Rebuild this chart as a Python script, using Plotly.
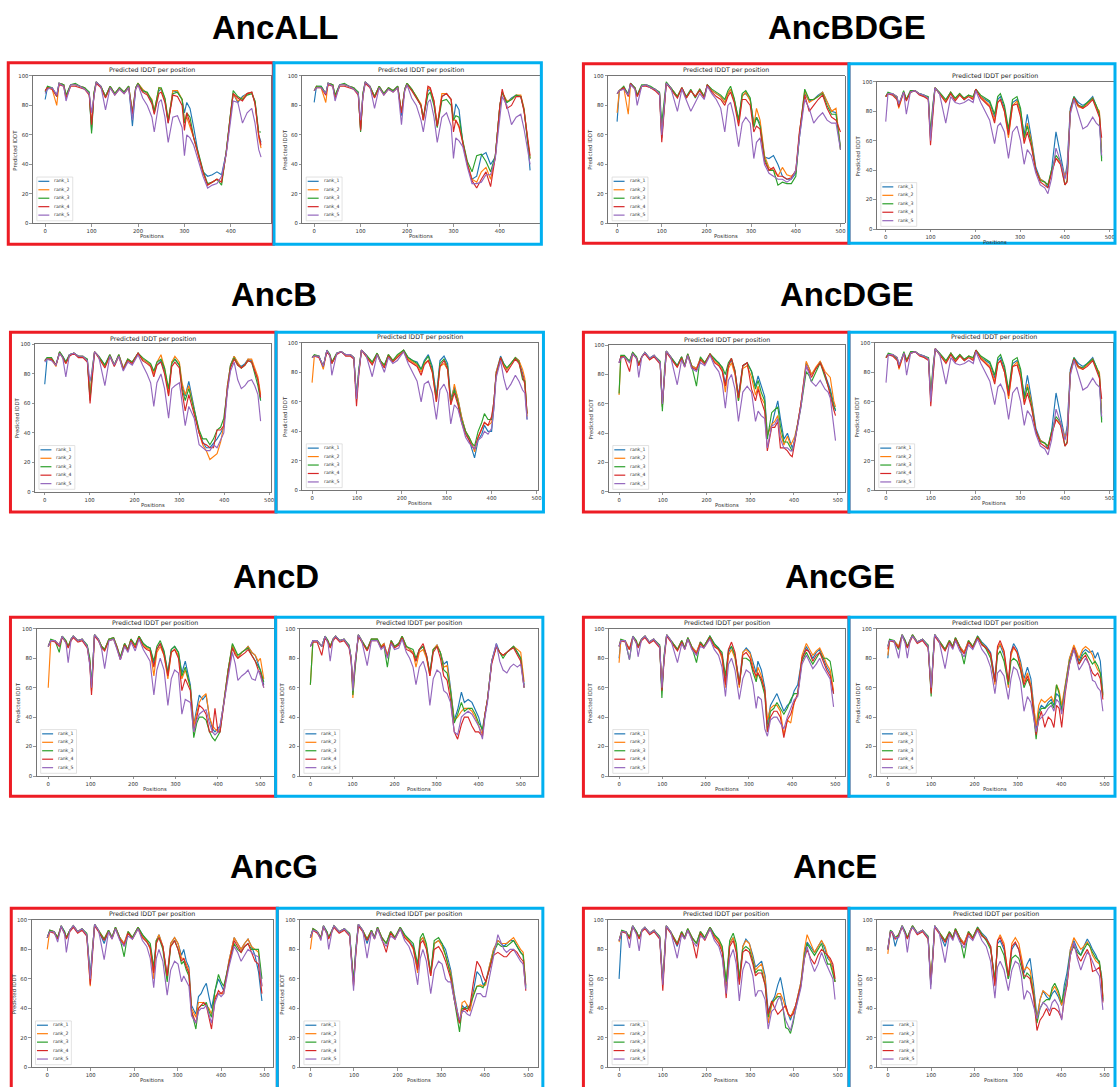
import plotly.graph_objects as go

W, H = 1120, 1087
RANKS = ["rank_1", "rank_2", "rank_3", "rank_4", "rank_5"]
COLORS = ["#1f77b4", "#ff7f0e", "#2ca02c", "#d62728", "#9467bd"]
X_TICKS = [0, 100, 200, 300, 400, 500]
Y_TICKS = [0, 20, 40, 60, 80, 100]
GROUP_TITLES = ["AncALL", "AncBDGE", "AncB", "AncDGE", "AncD", "AncGE", "AncG", "AncE"]
PANEL_TITLE = "Predicted lDDT per position"
X_LABEL = "Positions"
Y_LABEL = "Predicted lDDT"

# each row: (position, rank_1, rank_2, rank_3, rank_4, rank_5)
ancall_red = [
    (0, 84, 90, 89, 90, 88), (5, 92, 92, 93, 92, 91), (15, 92, 91, 92, 91, 92), (25, 87, 80, 86, 86, 87),
    (30, 95, 95, 95, 94, 95), (40, 94, 94, 94, 93, 93), (45, 86, 86, 87, 85, 83), (55, 94, 94, 94, 93, 94),
    (65, 94, 94, 95, 93, 94), (75, 93, 93, 93, 92, 93), (85, 92, 92, 92, 91, 91), (95, 88, 88, 89, 87, 88),
    (100, 63, 65, 61, 67, 75), (105, 88, 88, 88, 86, 86), (110, 96, 96, 96, 95, 96), (120, 93, 93, 93, 92, 93),
    (130, 86, 86, 86, 85, 77), (140, 93, 93, 93, 92, 92), (150, 88, 88, 88, 87, 87), (160, 92, 92, 92, 91, 91),
    (170, 89, 89, 89, 88, 88), (180, 93, 93, 93, 92, 92), (188, 66, 75, 75, 74, 70), (195, 92, 92, 92, 91, 91),
    (200, 95, 95, 95, 94, 94), (210, 90, 91, 90, 89, 85), (220, 88, 88, 89, 87, 80), (230, 82, 84, 83, 81, 72),
    (235, 75, 76, 76, 74, 62), (245, 90, 92, 92, 88, 82), (250, 91, 91, 92, 89, 84), (258, 84, 84, 85, 82, 72),
    (265, 68, 69, 70, 68, 55), (275, 90, 90, 88, 87, 72), (285, 89, 90, 89, 86, 73), (295, 84, 84, 84, 80, 65),
    (300, 75, 70, 68, 63, 46), (305, 82, 72, 75, 75, 60), (312, 78, 65, 72, 68, 58), (320, 65, 58, 58, 58, 53),
    (330, 47, 46, 48, 46, 43), (340, 35, 34, 36, 35, 32), (350, 32, 26, 27, 26, 24), (360, 33, 28, 28, 28, 26),
    (370, 35, 30, 30, 30, 27), (380, 33, 28, 26, 28, 32), (390, 48, 48, 49, 48, 47), (400, 76, 76, 77, 75, 70),
    (405, 88, 88, 90, 88, 83), (415, 82, 83, 86, 85, 82), (425, 86, 85, 84, 83, 68), (435, 88, 88, 87, 88, 75),
    (445, 89, 89, 88, 89, 78), (452, 82, 82, 83, 81, 68), (460, 60, 58, 62, 60, 50), (465, 55, 51, 62, 53, 45),
]
ancall_blue = [
    (0, 82, 90, 90, 90, 90), (5, 93, 93, 93, 92, 92), (15, 93, 92, 93, 92, 92), (25, 88, 82, 88, 87, 88),
    (30, 95, 95, 95, 94, 95), (40, 94, 94, 94, 93, 93), (45, 86, 86, 87, 85, 83), (55, 94, 94, 94, 93, 94),
    (65, 94, 94, 95, 93, 94), (75, 93, 93, 93, 92, 93), (85, 92, 92, 92, 91, 91), (95, 88, 88, 89, 87, 88),
    (100, 64, 64, 62, 63, 70), (105, 88, 88, 88, 86, 86), (110, 96, 96, 96, 95, 96), (120, 93, 93, 93, 92, 93),
    (130, 86, 86, 86, 85, 78), (140, 93, 93, 93, 92, 92), (150, 88, 88, 88, 87, 87), (160, 92, 92, 92, 91, 91),
    (170, 90, 90, 90, 89, 89), (180, 93, 93, 93, 92, 92), (188, 73, 75, 75, 75, 67), (195, 91, 91, 91, 90, 90),
    (200, 95, 95, 95, 94, 94), (210, 91, 91, 91, 90, 85), (220, 85, 86, 86, 85, 80), (230, 80, 81, 80, 80, 70),
    (235, 70, 70, 72, 70, 62), (245, 90, 92, 87, 93, 82), (250, 91, 91, 89, 92, 84), (258, 82, 83, 80, 83, 72),
    (265, 66, 66, 65, 66, 55), (275, 86, 88, 83, 86, 72), (285, 88, 88, 84, 88, 75), (295, 84, 84, 80, 84, 66),
    (300, 70, 70, 70, 62, 44), (305, 81, 70, 73, 70, 58), (312, 77, 65, 72, 66, 56), (320, 55, 56, 56, 54, 52),
    (330, 40, 40, 42, 40, 38), (340, 30, 30, 35, 29, 27), (350, 32, 28, 46, 24, 27), (360, 46, 35, 47, 30, 28),
    (370, 48, 38, 42, 35, 33), (380, 40, 30, 35, 25, 33), (390, 45, 45, 46, 45, 44), (400, 80, 80, 80, 80, 75),
    (405, 89, 89, 89, 91, 86), (415, 82, 83, 82, 78, 80), (425, 85, 84, 84, 80, 67), (435, 87, 87, 87, 86, 72),
    (445, 86, 87, 86, 86, 74), (452, 77, 78, 77, 76, 64), (460, 55, 56, 55, 55, 48), (465, 36, 44, 44, 46, 40),
]
ancbdge_red = [
    (0, 69, 75, 88, 88, 88), (5, 90, 90, 90, 90, 90), (15, 92, 92, 93, 92, 91), (25, 88, 74, 87, 86, 87),
    (30, 95, 94, 95, 95, 94), (40, 92, 92, 92, 91, 91), (45, 87, 86, 87, 86, 80), (55, 93, 93, 94, 93, 93),
    (65, 94, 94, 94, 93, 94), (75, 92, 92, 93, 92, 92), (85, 91, 91, 91, 90, 91), (95, 88, 88, 89, 87, 88),
    (100, 58, 60, 68, 55, 60), (105, 80, 80, 82, 78, 80), (110, 95, 95, 96, 95, 95), (120, 92, 92, 92, 91, 92),
    (135, 86, 86, 86, 85, 76), (145, 92, 92, 92, 92, 91), (155, 85, 85, 86, 85, 84), (165, 90, 90, 91, 90, 76),
    (175, 86, 86, 85, 86, 82), (185, 91, 91, 91, 90, 88), (195, 86, 86, 86, 85, 84), (202, 94, 94, 94, 94, 93),
    (212, 90, 90, 91, 89, 88), (222, 88, 88, 89, 86, 84), (232, 86, 86, 87, 84, 78), (241, 82, 82, 84, 80, 62),
    (248, 88, 88, 90, 86, 80), (254, 91, 91, 93, 89, 82), (262, 84, 84, 85, 82, 72), (272, 70, 68, 70, 66, 52),
    (280, 87, 86, 88, 84, 68), (288, 88, 89, 90, 84, 72), (298, 84, 83, 85, 80, 68), (306, 68, 66, 65, 62, 44),
    (312, 72, 78, 72, 66, 55), (320, 68, 70, 66, 64, 58), (330, 45, 46, 44, 42, 40), (340, 44, 38, 36, 36, 34),
    (350, 46, 36, 36, 38, 32), (360, 40, 32, 26, 32, 30), (370, 32, 38, 28, 32, 30), (380, 30, 33, 27, 30, 28),
    (390, 30, 32, 27, 31, 30), (400, 34, 35, 32, 36, 36), (408, 58, 60, 60, 62, 58), (420, 88, 90, 91, 87, 84),
    (430, 83, 82, 84, 76, 78), (440, 84, 84, 84, 80, 68), (450, 87, 86, 86, 84, 72), (460, 89, 89, 88, 87, 75),
    (470, 82, 82, 80, 78, 70), (480, 76, 76, 74, 72, 68), (490, 75, 78, 74, 70, 68), (500, 52, 50, 50, 62, 50),
]
ancbdge_blue = [
    (0, 90, 90, 90, 90, 73), (5, 92, 92, 93, 92, 92), (15, 92, 92, 92, 91, 92), (25, 90, 90, 89, 88, 90),
    (29, 84, 82, 84, 83, 85), (40, 93, 93, 94, 93, 93), (46, 88, 88, 88, 87, 78), (55, 93, 93, 94, 93, 93),
    (65, 94, 94, 94, 94, 94), (75, 92, 92, 92, 91, 92), (85, 91, 90, 91, 90, 91), (95, 89, 89, 90, 88, 89),
    (100, 62, 63, 65, 57, 60), (105, 82, 82, 84, 80, 82), (110, 96, 96, 96, 96, 96), (120, 92, 92, 93, 92, 92),
    (134, 87, 87, 88, 86, 72), (145, 93, 93, 93, 92, 90), (155, 88, 88, 89, 87, 86), (165, 92, 92, 92, 91, 85),
    (175, 88, 88, 89, 88, 86), (185, 91, 91, 91, 90, 88), (195, 89, 89, 90, 88, 86), (201, 95, 95, 95, 95, 94),
    (212, 90, 90, 91, 89, 86), (222, 88, 87, 89, 86, 80), (232, 86, 84, 87, 83, 74), (243, 76, 74, 78, 72, 58),
    (250, 88, 86, 90, 86, 70), (256, 90, 88, 92, 88, 72), (265, 82, 80, 84, 80, 66), (274, 66, 62, 68, 64, 48),
    (283, 86, 84, 88, 84, 66), (293, 88, 87, 90, 85, 70), (301, 80, 78, 82, 76, 60), (309, 64, 60, 62, 58, 44),
    (316, 78, 72, 70, 66, 54), (325, 62, 60, 58, 56, 50), (335, 42, 40, 40, 40, 38), (345, 34, 34, 33, 32, 30),
    (355, 32, 32, 32, 30, 28), (362, 28, 30, 30, 28, 24), (370, 40, 38, 40, 38, 34), (380, 66, 48, 50, 48, 55),
    (390, 50, 45, 46, 44, 46), (400, 35, 36, 30, 30, 34), (405, 44, 40, 33, 32, 40), (412, 82, 80, 80, 80, 78),
    (420, 90, 88, 90, 89, 88), (430, 86, 83, 84, 84, 78), (440, 84, 82, 83, 82, 68), (450, 86, 85, 86, 84, 70),
    (462, 90, 89, 89, 88, 76), (470, 84, 83, 84, 82, 72), (477, 78, 80, 78, 76, 70), (482, 48, 52, 46, 62, 50),
]
ancb_red = [
    (0, 73, 89, 89, 89, 88), (5, 90, 90, 91, 90, 90), (15, 90, 90, 91, 90, 89), (25, 86, 85, 86, 86, 86),
    (33, 95, 95, 95, 94, 94), (40, 92, 91, 92, 91, 91), (47, 88, 87, 88, 87, 78), (55, 93, 93, 93, 92, 93),
    (65, 94, 94, 94, 94, 94), (75, 92, 92, 92, 91, 92), (85, 92, 92, 92, 91, 92), (95, 89, 89, 90, 88, 89),
    (101, 64, 66, 62, 60, 75), (106, 82, 82, 84, 80, 83), (111, 95, 95, 95, 95, 95), (120, 92, 92, 92, 91, 92),
    (134, 86, 85, 86, 84, 72), (145, 93, 93, 93, 92, 92), (155, 86, 86, 86, 85, 86), (165, 93, 93, 93, 92, 92),
    (175, 84, 84, 83, 83, 82), (185, 90, 90, 90, 89, 88), (195, 88, 88, 88, 87, 86), (208, 94, 94, 94, 94, 93),
    (218, 90, 90, 91, 89, 86), (228, 88, 88, 89, 87, 80), (236, 86, 86, 87, 85, 74), (243, 80, 80, 82, 78, 58),
    (250, 86, 88, 88, 86, 74), (259, 89, 93, 90, 88, 80), (267, 82, 84, 84, 80, 70), (276, 68, 66, 70, 65, 50),
    (283, 88, 88, 87, 85, 70), (290, 90, 92, 90, 88, 72), (300, 86, 88, 86, 84, 74), (306, 72, 74, 70, 68, 60),
    (313, 65, 66, 62, 55, 45), (321, 75, 72, 70, 66, 58), (333, 58, 56, 55, 52, 50), (344, 40, 40, 42, 40, 32),
    (352, 34, 32, 36, 33, 30), (360, 30, 28, 36, 32, 28), (368, 30, 22, 32, 30, 28), (376, 33, 24, 36, 30, 32),
    (384, 36, 26, 42, 42, 30), (392, 40, 34, 44, 42, 36), (399, 44, 45, 50, 45, 40), (407, 72, 72, 70, 70, 68),
    (414, 86, 86, 86, 84, 82), (422, 92, 92, 91, 90, 88), (430, 87, 88, 86, 86, 76), (438, 85, 84, 84, 84, 70),
    (446, 87, 86, 86, 86, 72), (453, 90, 90, 89, 89, 75), (461, 89, 90, 88, 88, 76), (468, 82, 84, 80, 82, 72),
    (475, 76, 78, 72, 76, 66), (481, 62, 66, 62, 64, 48),
]
ancb_blue = [
    (0, 90, 73, 90, 90, 90), (5, 91, 91, 92, 91, 91), (15, 91, 91, 91, 90, 91), (25, 84, 82, 84, 84, 84),
    (33, 95, 95, 95, 94, 95), (40, 91, 91, 92, 91, 91), (44, 86, 86, 87, 86, 78), (55, 93, 93, 93, 92, 93),
    (65, 94, 94, 94, 94, 94), (75, 92, 92, 92, 91, 92), (85, 92, 92, 92, 91, 92), (93, 90, 90, 90, 89, 90),
    (99, 62, 62, 64, 57, 62), (104, 80, 80, 82, 78, 80), (110, 95, 95, 95, 95, 95), (120, 92, 92, 92, 91, 92),
    (134, 86, 86, 87, 85, 77), (145, 93, 93, 93, 92, 92), (152, 88, 88, 88, 87, 87), (161, 84, 84, 85, 83, 80),
    (170, 92, 92, 92, 91, 90), (180, 88, 88, 88, 87, 86), (190, 91, 91, 92, 90, 88), (204, 95, 95, 95, 94, 94),
    (214, 90, 89, 90, 88, 86), (224, 88, 87, 88, 86, 80), (234, 87, 85, 86, 84, 74), (243, 82, 80, 82, 78, 60),
    (250, 88, 86, 87, 85, 72), (259, 92, 88, 91, 88, 74), (268, 84, 80, 82, 80, 66), (277, 64, 60, 62, 60, 48),
    (285, 88, 84, 86, 84, 68), (294, 91, 86, 89, 88, 72), (302, 86, 82, 84, 82, 66), (309, 62, 58, 60, 58, 45),
    (317, 70, 72, 68, 66, 58), (325, 62, 62, 60, 58, 55), (333, 50, 50, 48, 46, 46), (342, 40, 40, 40, 38, 36),
    (350, 34, 36, 36, 34, 32), (356, 28, 32, 32, 30, 30), (362, 22, 26, 30, 28, 28), (370, 34, 36, 40, 36, 34),
    (378, 38, 42, 46, 42, 36), (384, 44, 46, 52, 46, 40), (392, 40, 44, 48, 44, 38), (400, 40, 46, 48, 50, 42),
    (405, 56, 58, 60, 60, 55), (410, 80, 80, 78, 78, 76), (420, 91, 90, 90, 90, 88), (427, 86, 85, 86, 84, 76),
    (434, 82, 82, 83, 80, 68), (443, 86, 86, 86, 84, 72), (453, 90, 90, 90, 89, 78), (461, 88, 88, 87, 86, 74),
    (469, 80, 82, 75, 78, 68), (474, 74, 76, 74, 72, 66), (479, 48, 50, 52, 52, 48),
]
ancdge_red = [
    (0, 88, 66, 67, 88, 88), (4, 92, 92, 93, 92, 91), (12, 92, 92, 93, 92, 92), (24, 89, 88, 89, 82, 88),
    (31, 95, 95, 95, 94, 94), (40, 91, 91, 92, 91, 91), (45, 87, 86, 87, 86, 78), (52, 92, 92, 92, 92, 92),
    (59, 95, 95, 95, 94, 95), (70, 91, 90, 91, 90, 91), (80, 93, 93, 93, 92, 93), (88, 90, 90, 91, 89, 90),
    (94, 88, 88, 89, 87, 88), (99, 58, 58, 55, 60, 60), (104, 82, 82, 84, 82, 82), (108, 96, 96, 96, 95, 96),
    (118, 92, 92, 92, 91, 92), (133, 86, 85, 86, 85, 73), (143, 92, 92, 92, 91, 90), (150, 86, 86, 86, 85, 85),
    (157, 94, 94, 94, 93, 93), (166, 86, 86, 86, 85, 84), (177, 84, 84, 72, 83, 82), (186, 91, 91, 92, 90, 88),
    (196, 88, 88, 88, 87, 86), (208, 94, 94, 94, 94, 93), (218, 90, 89, 91, 88, 86), (228, 88, 87, 88, 86, 82),
    (236, 84, 83, 85, 82, 74), (243, 74, 68, 80, 72, 57), (250, 86, 84, 88, 86, 76), (257, 90, 88, 91, 91, 80),
    (265, 82, 80, 83, 82, 70), (273, 66, 62, 62, 64, 48), (283, 86, 84, 86, 86, 68), (293, 88, 86, 88, 88, 72),
    (303, 82, 78, 82, 70, 68), (312, 72, 66, 70, 62, 48), (318, 79, 72, 76, 70, 55), (325, 72, 64, 68, 62, 52),
    (333, 65, 60, 62, 55, 50), (339, 40, 38, 36, 28, 30), (349, 45, 46, 54, 44, 45), (356, 54, 48, 56, 44, 46),
    (363, 62, 52, 58, 48, 50), (369, 50, 40, 45, 30, 36), (377, 36, 32, 34, 30, 30), (385, 40, 38, 34, 28, 30),
    (392, 34, 32, 30, 25, 28), (396, 30, 34, 28, 24, 28), (402, 35, 38, 36, 34, 36), (408, 45, 46, 45, 44, 44),
    (416, 60, 60, 58, 60, 58), (428, 88, 89, 82, 86, 86), (435, 84, 84, 79, 82, 80), (440, 80, 80, 75, 78, 75),
    (450, 84, 85, 82, 84, 72), (460, 89, 89, 88, 88, 76), (471, 80, 82, 78, 80, 70), (478, 74, 80, 72, 72, 68),
    (483, 70, 78, 68, 65, 64), (491, 60, 62, 58, 56, 45), (495, 55, 58, 56, 52, 35),
]
# the AncDGE right-hand panel shows the same curves as the AncBDGE right-hand panel
ancdge_blue = ancbdge_blue
ancd_red = [
    (0, 88, 60, 88, 88, 88), (6, 92, 92, 93, 92, 92), (16, 92, 92, 92, 91, 92), (26, 89, 89, 84, 88, 89),
    (33, 95, 95, 95, 94, 95), (42, 91, 91, 92, 91, 90), (47, 88, 88, 88, 87, 77), (54, 93, 93, 93, 92, 93),
    (59, 95, 95, 95, 94, 95), (70, 92, 92, 92, 91, 92), (80, 93, 93, 93, 92, 93), (92, 88, 88, 89, 87, 88),
    (98, 78, 78, 80, 76, 75), (102, 60, 58, 62, 55, 60), (106, 78, 78, 80, 76, 80), (109, 96, 96, 96, 95, 96),
    (118, 93, 93, 93, 92, 93), (126, 88, 88, 88, 87, 86), (133, 86, 86, 86, 85, 73), (143, 93, 93, 93, 92, 92),
    (154, 94, 94, 94, 93, 93), (162, 88, 88, 88, 87, 86), (170, 80, 80, 81, 79, 79), (180, 90, 90, 90, 89, 88),
    (188, 86, 86, 86, 85, 84), (195, 93, 93, 93, 92, 91), (205, 88, 88, 89, 87, 85), (214, 95, 95, 95, 94, 93),
    (224, 90, 89, 90, 88, 86), (232, 88, 87, 88, 86, 82), (240, 87, 86, 87, 85, 78), (249, 76, 68, 78, 74, 55),
    (256, 86, 84, 88, 86, 72), (264, 90, 88, 92, 90, 80), (273, 84, 82, 85, 82, 72), (282, 70, 66, 70, 68, 48),
    (290, 86, 84, 86, 84, 66), (298, 88, 86, 88, 86, 72), (307, 84, 82, 84, 80, 70), (315, 70, 66, 68, 58, 42),
    (323, 78, 72, 74, 66, 52), (335, 62, 60, 60, 58, 50), (343, 35, 34, 26, 30, 30), (350, 45, 44, 36, 40, 38),
    (356, 55, 50, 40, 48, 42), (364, 52, 54, 40, 46, 44), (372, 55, 56, 38, 42, 45), (380, 40, 40, 30, 30, 36),
    (387, 32, 34, 26, 30, 30), (393, 30, 32, 24, 46, 28), (400, 32, 30, 28, 30, 30), (405, 34, 32, 30, 30, 34),
    (414, 50, 52, 50, 50, 50), (424, 72, 72, 72, 70, 68), (434, 88, 89, 90, 87, 84), (441, 84, 84, 86, 82, 76),
    (447, 80, 80, 82, 80, 65), (456, 84, 84, 84, 82, 68), (465, 86, 86, 86, 84, 70), (471, 88, 88, 87, 86, 72),
    (480, 84, 84, 82, 82, 66), (488, 82, 82, 78, 78, 65), (495, 76, 78, 74, 72, 72), (500, 72, 80, 72, 70, 68),
    (508, 62, 66, 64, 60, 60),
]
ancd_blue = [
    (0, 88, 62, 62, 88, 88), (6, 92, 92, 92, 91, 92), (16, 92, 92, 92, 91, 92), (27, 88, 88, 88, 82, 88),
    (35, 95, 95, 95, 94, 95), (42, 91, 91, 92, 91, 90), (47, 88, 88, 88, 87, 78), (54, 93, 93, 93, 92, 93),
    (60, 95, 95, 95, 94, 95), (70, 92, 92, 92, 91, 92), (80, 93, 93, 93, 92, 93), (92, 88, 88, 89, 87, 88),
    (97, 80, 80, 80, 78, 80), (101, 60, 53, 55, 60, 58), (106, 75, 74, 72, 76, 76), (114, 96, 96, 96, 95, 96),
    (122, 92, 92, 92, 91, 92), (135, 86, 86, 86, 85, 75), (145, 93, 93, 93, 92, 92), (159, 93, 93, 93, 92, 92),
    (168, 88, 88, 88, 87, 86), (175, 90, 90, 88, 89, 88), (183, 82, 82, 74, 81, 80), (192, 92, 92, 92, 91, 90),
    (200, 88, 88, 88, 87, 86), (210, 90, 90, 90, 89, 87), (218, 95, 95, 95, 94, 93), (228, 88, 88, 88, 86, 84),
    (236, 86, 86, 87, 85, 80), (244, 84, 84, 86, 83, 74), (251, 78, 74, 80, 78, 62), (259, 86, 84, 86, 86, 74),
    (268, 88, 86, 88, 90, 78), (276, 82, 80, 82, 82, 70), (284, 70, 68, 70, 68, 48), (292, 86, 86, 86, 84, 66),
    (301, 89, 89, 88, 88, 72), (309, 84, 84, 84, 80, 70), (317, 76, 74, 72, 68, 58), (325, 78, 75, 70, 65, 56),
    (333, 60, 58, 58, 52, 50), (342, 38, 38, 36, 30, 30), (350, 45, 40, 42, 25, 28), (359, 57, 44, 50, 35, 40),
    (366, 50, 46, 44, 40, 42), (375, 52, 46, 46, 40, 44), (384, 50, 44, 46, 34, 42), (392, 45, 40, 42, 30, 38),
    (400, 40, 34, 36, 30, 34), (409, 30, 28, 32, 27, 25), (415, 40, 42, 42, 42, 40), (421, 52, 52, 52, 52, 50),
    (431, 78, 78, 78, 76, 78), (442, 90, 88, 88, 88, 90), (450, 84, 84, 84, 84, 78), (458, 82, 82, 80, 82, 72),
    (467, 84, 84, 84, 84, 70), (475, 86, 86, 86, 86, 74), (483, 88, 88, 88, 87, 76), (492, 84, 86, 84, 82, 74),
    (500, 80, 84, 80, 78, 76), (508, 62, 64, 60, 60, 60),
]
ancge_red = [
    (0, 80, 77, 88, 88, 88), (4, 92, 92, 93, 92, 92), (14, 92, 92, 92, 91, 92), (24, 86, 86, 79, 86, 79),
    (32, 95, 95, 95, 94, 95), (40, 91, 91, 92, 91, 90), (44, 88, 88, 88, 87, 81), (52, 93, 93, 93, 92, 93),
    (60, 95, 95, 95, 94, 95), (70, 91, 91, 91, 90, 91), (80, 93, 93, 93, 92, 93), (94, 88, 88, 89, 87, 88),
    (99, 58, 60, 53, 58, 60), (104, 80, 80, 82, 78, 80), (110, 96, 96, 96, 95, 96), (120, 92, 92, 92, 91, 92),
    (135, 86, 86, 86, 85, 77), (145, 92, 92, 92, 91, 90), (152, 87, 87, 87, 86, 86), (159, 94, 94, 94, 93, 93),
    (168, 88, 88, 88, 87, 86), (179, 84, 84, 77, 83, 82), (188, 91, 91, 91, 90, 88), (196, 88, 88, 88, 87, 87),
    (210, 95, 95, 95, 94, 93), (220, 90, 89, 90, 88, 86), (230, 87, 86, 87, 86, 82), (238, 82, 80, 84, 82, 74),
    (246, 64, 60, 68, 62, 54), (253, 84, 82, 86, 86, 76), (260, 88, 86, 88, 91, 80), (268, 82, 80, 82, 84, 72),
    (278, 64, 60, 62, 62, 52), (286, 84, 84, 80, 82, 66), (294, 87, 86, 80, 84, 72), (303, 84, 83, 78, 80, 70),
    (310, 76, 74, 70, 72, 62), (317, 70, 66, 64, 68, 46), (321, 78, 74, 70, 70, 54), (329, 72, 68, 64, 66, 52),
    (337, 60, 58, 55, 58, 32), (343, 35, 38, 30, 30, 27), (350, 48, 46, 44, 40, 38), (358, 52, 48, 46, 44, 40),
    (365, 56, 48, 50, 44, 40), (373, 50, 44, 46, 40, 36), (381, 44, 28, 42, 26, 32), (389, 48, 38, 46, 38, 40),
    (397, 50, 36, 52, 42, 46), (405, 58, 50, 56, 50, 52), (413, 62, 55, 56, 56, 54), (423, 80, 82, 78, 80, 76),
    (433, 88, 90, 84, 86, 82), (440, 84, 86, 80, 84, 78), (448, 80, 82, 76, 78, 73), (456, 84, 85, 80, 82, 76),
    (464, 86, 87, 84, 84, 80), (472, 80, 82, 80, 78, 74), (480, 74, 76, 80, 72, 70), (488, 70, 72, 78, 68, 66),
    (496, 56, 58, 64, 56, 47),
]
ancge_blue = [
    (0, 80, 82, 88, 86, 88), (4, 92, 92, 93, 92, 92), (14, 92, 92, 92, 91, 92), (25, 88, 88, 86, 87, 80),
    (33, 96, 96, 96, 95, 96), (40, 92, 91, 92, 91, 90), (45, 88, 88, 88, 87, 80), (52, 93, 93, 93, 92, 93),
    (57, 96, 96, 96, 95, 95), (68, 91, 91, 91, 90, 91), (80, 93, 93, 93, 92, 93), (93, 88, 88, 89, 87, 88),
    (100, 58, 58, 54, 56, 60), (104, 78, 78, 80, 76, 80), (108, 96, 96, 96, 95, 96), (118, 92, 92, 92, 91, 92),
    (132, 86, 86, 86, 85, 73), (142, 92, 92, 92, 91, 90), (150, 88, 88, 88, 87, 86), (156, 94, 94, 94, 93, 92),
    (166, 88, 88, 88, 87, 85), (176, 84, 84, 76, 83, 81), (186, 92, 92, 92, 91, 89), (196, 88, 88, 88, 87, 86),
    (207, 95, 95, 95, 94, 93), (217, 91, 90, 90, 89, 86), (227, 88, 87, 86, 87, 82), (237, 84, 82, 80, 83, 74),
    (247, 66, 62, 64, 64, 56), (253, 86, 86, 82, 88, 70), (259, 89, 90, 85, 92, 72), (268, 82, 84, 78, 85, 68),
    (278, 62, 60, 62, 64, 52), (284, 84, 82, 78, 84, 66), (290, 90, 87, 80, 88, 74), (298, 86, 84, 78, 84, 72),
    (306, 78, 76, 72, 74, 64), (314, 66, 64, 60, 62, 44), (322, 74, 70, 66, 68, 54), (330, 66, 62, 60, 60, 50),
    (342, 32, 34, 25, 28, 30), (348, 44, 48, 42, 38, 38), (354, 48, 52, 46, 44, 40), (362, 46, 50, 46, 33, 42),
    (370, 50, 52, 48, 40, 46), (377, 52, 54, 50, 38, 48), (383, 48, 50, 46, 33, 44), (389, 56, 62, 62, 48, 52),
    (395, 54, 58, 56, 46, 50), (401, 45, 48, 44, 33, 42), (409, 62, 62, 60, 56, 58), (419, 80, 80, 78, 76, 76),
    (429, 88, 89, 86, 87, 86), (435, 84, 85, 82, 82, 78), (441, 78, 80, 76, 76, 72), (449, 84, 86, 82, 80, 76),
    (456, 86, 88, 84, 82, 80), (464, 84, 86, 80, 76, 76), (472, 85, 82, 76, 70, 65), (478, 80, 76, 78, 68, 64),
    (484, 84, 72, 75, 70, 60), (490, 78, 70, 70, 66, 58), (496, 56, 55, 54, 52, 44),
]
ancg_red = [
    (0, 88, 80, 88, 88, 88), (6, 93, 93, 93, 92, 92), (16, 92, 92, 92, 91, 92), (24, 88, 88, 88, 87, 85),
    (32, 96, 96, 96, 95, 96), (40, 92, 91, 92, 91, 90), (44, 88, 88, 88, 87, 78), (52, 93, 93, 93, 92, 93),
    (60, 96, 96, 96, 95, 96), (70, 92, 92, 92, 91, 92), (80, 94, 94, 94, 93, 94), (91, 90, 90, 91, 89, 90),
    (99, 63, 55, 60, 56, 60), (104, 80, 80, 82, 78, 80), (109, 97, 97, 97, 96, 97), (118, 93, 93, 93, 92, 93),
    (131, 84, 87, 87, 86, 73), (141, 93, 93, 93, 92, 92), (149, 88, 88, 88, 87, 87), (157, 95, 95, 95, 94, 94),
    (167, 88, 88, 88, 87, 86), (177, 84, 84, 75, 83, 82), (186, 92, 92, 92, 91, 89), (196, 88, 88, 88, 87, 87),
    (209, 95, 95, 95, 94, 94), (219, 90, 89, 90, 88, 86), (229, 86, 86, 87, 85, 82), (237, 82, 80, 84, 81, 74),
    (245, 66, 60, 68, 64, 54), (251, 86, 86, 86, 84, 74), (257, 90, 90, 88, 88, 80), (266, 82, 82, 80, 82, 72),
    (276, 62, 60, 58, 62, 49), (284, 84, 84, 82, 82, 66), (293, 88, 88, 86, 86, 72), (301, 84, 84, 80, 80, 70),
    (309, 76, 74, 70, 72, 58), (314, 80, 74, 72, 74, 62), (320, 72, 70, 66, 68, 58), (326, 68, 66, 62, 64, 55),
    (332, 42, 40, 38, 38, 35), (342, 36, 34, 26, 30, 30), (348, 48, 44, 40, 40, 38), (354, 50, 44, 42, 42, 40),
    (360, 54, 44, 42, 44, 40), (366, 57, 42, 44, 42, 42), (372, 48, 40, 38, 34, 36), (378, 40, 36, 34, 26, 30),
    (386, 52, 48, 52, 46, 44), (394, 60, 50, 63, 52, 50), (400, 56, 50, 58, 50, 48), (406, 52, 50, 55, 52, 50),
    (418, 72, 72, 70, 70, 68), (430, 88, 88, 84, 86, 82), (438, 84, 84, 80, 82, 78), (446, 80, 80, 78, 78, 72),
    (454, 84, 84, 82, 82, 76), (462, 87, 87, 84, 84, 80), (470, 82, 82, 80, 78, 78), (478, 76, 80, 80, 72, 76),
    (486, 65, 78, 80, 70, 75), (494, 45, 55, 60, 50, 55),
]
ancg_blue = [
    (0, 88, 80, 88, 88, 88), (6, 94, 94, 94, 93, 93), (16, 92, 92, 92, 91, 92), (24, 88, 88, 88, 87, 86),
    (30, 96, 96, 96, 95, 96), (38, 92, 91, 92, 91, 90), (42, 88, 88, 88, 87, 80), (50, 93, 93, 93, 92, 93),
    (54, 96, 96, 96, 95, 96), (66, 92, 92, 92, 91, 92), (78, 94, 94, 94, 93, 94), (90, 90, 90, 91, 89, 90),
    (99, 58, 56, 58, 55, 52), (104, 78, 78, 80, 76, 78), (110, 97, 97, 97, 96, 97), (120, 93, 93, 93, 92, 93),
    (130, 84, 87, 87, 86, 74), (140, 93, 93, 93, 92, 92), (147, 88, 88, 88, 87, 87), (154, 95, 95, 95, 94, 94),
    (164, 88, 88, 88, 87, 86), (174, 84, 84, 84, 78, 82), (184, 92, 92, 92, 91, 89), (194, 88, 88, 88, 87, 87),
    (206, 95, 95, 95, 94, 94), (216, 90, 89, 90, 88, 86), (226, 86, 86, 87, 85, 82), (236, 82, 80, 84, 81, 74),
    (246, 68, 64, 70, 66, 56), (252, 86, 86, 88, 84, 74), (258, 88, 88, 91, 86, 80), (266, 82, 82, 84, 80, 72),
    (276, 64, 62, 64, 62, 50), (284, 84, 84, 86, 80, 66), (294, 86, 86, 88, 82, 72), (302, 84, 82, 84, 78, 70),
    (310, 80, 76, 76, 72, 60), (316, 72, 70, 68, 66, 58), (322, 66, 64, 62, 60, 58), (330, 50, 48, 46, 46, 46),
    (342, 30, 30, 24, 30, 32), (348, 42, 44, 40, 38, 38), (354, 40, 45, 40, 40, 38), (360, 42, 42, 40, 38, 36),
    (366, 40, 38, 42, 42, 35), (374, 52, 50, 48, 58, 42), (382, 65, 55, 55, 72, 50), (390, 62, 56, 55, 68, 50),
    (396, 56, 55, 54, 62, 48), (402, 58, 56, 58, 58, 48), (410, 68, 68, 66, 66, 60), (420, 80, 80, 78, 76, 76),
    (430, 86, 86, 84, 78, 90), (438, 84, 84, 82, 76, 84), (444, 82, 84, 82, 75, 80), (450, 84, 84, 82, 75, 78),
    (458, 86, 86, 84, 78, 80), (466, 86, 88, 86, 80, 80), (474, 82, 84, 82, 78, 76), (482, 78, 80, 78, 74, 72),
    (488, 76, 78, 76, 72, 70), (494, 55, 56, 54, 52, 53),
]
ance_red = [
    (0, 60, 85, 86, 86, 86), (6, 92, 92, 93, 92, 92), (16, 92, 92, 92, 91, 92), (24, 88, 88, 88, 87, 81),
    (31, 96, 96, 96, 95, 96), (40, 92, 91, 92, 91, 90), (46, 88, 88, 88, 87, 79), (52, 93, 93, 93, 92, 93),
    (59, 95, 95, 95, 94, 95), (70, 91, 91, 91, 90, 91), (80, 93, 93, 93, 92, 93), (93, 88, 88, 89, 87, 88),
    (100, 56, 58, 57, 52, 56), (104, 78, 78, 80, 76, 78), (108, 96, 96, 96, 95, 96), (118, 92, 92, 92, 91, 92),
    (133, 82, 84, 84, 83, 74), (143, 92, 92, 92, 91, 90), (150, 88, 88, 88, 87, 87), (157, 94, 94, 94, 93, 93),
    (167, 88, 88, 88, 87, 86), (177, 84, 84, 84, 74, 82), (186, 92, 92, 92, 91, 89), (196, 88, 88, 88, 86, 87),
    (208, 95, 95, 95, 94, 94), (218, 90, 89, 90, 88, 86), (228, 86, 86, 87, 84, 82), (236, 80, 80, 82, 78, 74),
    (245, 55, 56, 58, 47, 50), (253, 84, 84, 86, 82, 74), (261, 88, 88, 91, 86, 80), (268, 80, 80, 84, 78, 70),
    (275, 60, 58, 60, 56, 45), (283, 82, 82, 80, 78, 66), (290, 87, 86, 82, 80, 72), (298, 84, 84, 80, 78, 70),
    (306, 76, 74, 72, 70, 62), (312, 68, 66, 64, 62, 48), (318, 70, 68, 66, 64, 52), (326, 72, 70, 66, 64, 52),
    (334, 62, 60, 56, 56, 46), (341, 38, 30, 34, 36, 26), (349, 44, 42, 44, 45, 38), (356, 48, 46, 46, 40, 40),
    (363, 56, 50, 48, 36, 46), (369, 61, 50, 48, 38, 48), (375, 52, 46, 40, 40, 40), (381, 42, 40, 27, 42, 32),
    (387, 36, 36, 26, 36, 28), (392, 32, 34, 23, 35, 25), (398, 38, 38, 30, 36, 32), (404, 42, 42, 40, 42, 40),
    (416, 58, 58, 56, 56, 54), (424, 78, 80, 76, 74, 74), (430, 85, 90, 84, 80, 82), (438, 82, 84, 80, 74, 72),
    (447, 78, 78, 76, 70, 65), (455, 82, 82, 80, 76, 70), (463, 86, 86, 84, 80, 78), (471, 80, 82, 76, 78, 72),
    (477, 74, 76, 70, 76, 68), (483, 72, 72, 70, 74, 65), (489, 68, 66, 64, 70, 60), (494, 58, 58, 58, 60, 46),
]
ance_blue = [
    (0, 80, 77, 80, 80, 80), (6, 92, 92, 93, 92, 92), (10, 92, 92, 92, 91, 92), (17, 82, 88, 88, 87, 88),
    (25, 90, 90, 90, 89, 88), (33, 96, 96, 96, 95, 96), (40, 92, 91, 92, 91, 90), (45, 88, 88, 88, 87, 78),
    (52, 93, 93, 93, 92, 93), (57, 96, 96, 96, 95, 95), (68, 91, 91, 91, 90, 91), (80, 93, 93, 93, 92, 93),
    (93, 88, 88, 89, 87, 88), (99, 58, 60, 56, 57, 53), (104, 76, 76, 78, 74, 76), (108, 96, 96, 96, 95, 96),
    (118, 92, 92, 92, 91, 92), (132, 82, 86, 86, 85, 71), (142, 92, 92, 92, 91, 90), (150, 88, 88, 88, 87, 86),
    (156, 94, 94, 94, 93, 92), (166, 88, 88, 88, 87, 85), (176, 84, 84, 74, 83, 81), (186, 92, 92, 92, 91, 89),
    (196, 88, 88, 88, 87, 86), (207, 95, 95, 95, 94, 93), (217, 91, 90, 90, 89, 86), (227, 88, 87, 86, 87, 82),
    (237, 82, 82, 80, 82, 72), (247, 58, 56, 60, 55, 47), (253, 84, 86, 82, 86, 68), (259, 86, 90, 82, 88, 72),
    (268, 80, 84, 76, 82, 66), (278, 60, 60, 60, 62, 52), (286, 80, 84, 74, 82, 66), (294, 84, 88, 76, 85, 72),
    (302, 80, 84, 74, 80, 70), (308, 72, 76, 68, 72, 62), (314, 64, 66, 60, 62, 46), (321, 70, 68, 64, 62, 52),
    (328, 74, 66, 62, 60, 50), (336, 56, 52, 50, 48, 42), (344, 34, 32, 30, 25, 33), (351, 46, 46, 40, 32, 40),
    (358, 52, 52, 44, 35, 44), (366, 48, 50, 46, 40, 42), (373, 46, 48, 46, 35, 38), (379, 50, 52, 54, 40, 44),
    (385, 52, 55, 57, 40, 46), (393, 48, 50, 52, 38, 42), (401, 42, 42, 44, 33, 32), (407, 56, 50, 52, 46, 48),
    (413, 64, 55, 60, 56, 58), (421, 80, 80, 78, 76, 76), (429, 86, 88, 82, 84, 85), (437, 80, 84, 78, 76, 74),
    (445, 76, 80, 76, 72, 66), (452, 82, 82, 80, 76, 72), (460, 87, 85, 84, 80, 78), (466, 84, 82, 82, 76, 76),
    (472, 80, 76, 78, 65, 72), (480, 76, 72, 74, 66, 66), (488, 70, 70, 72, 68, 62), (493, 62, 60, 60, 58, 50),
    (496, 45, 48, 46, 44, 39),
]

PANEL_DATA = [ancall_red, ancall_blue, ancbdge_red, ancbdge_blue,
              ancb_red, ancb_blue, ancdge_red, ancdge_blue,
              ancd_red, ancd_blue, ancge_red, ancge_blue,
              ancg_red, ancg_blue, ance_red, ance_blue]

# ---- layout (pixels): axes left, right, y(100), y(0), px of x=0, px of x=tick, tick value
GEOM = [
    (33.0, 272.0, 73.3, 221.7, 45.3, 231.7, 400),
    (303.3, 541.7, 73.3, 221.7, 315.3, 501.7, 400),
    (610.3, 847.6, 73.3, 221.7, 619.3, 843.5, 500),
    (880.0, 1117.9, 79.3, 227.3, 888.9, 1113.7, 500),
    (35.1, 272.5, 343.3, 491.7, 44.9, 270.1, 500),
    (303.4, 540.2, 341.7, 490.0, 313.2, 538.4, 500),
    (611.0, 847.9, 344.0, 491.7, 621.3, 840.7, 500),
    (877.9, 1117.2, 341.7, 490.0, 889.2, 1113.7, 500),
    (36.8, 275.3, 629.3, 777.3, 48.4, 261.3, 500),
    (301.0, 540.2, 629.3, 777.3, 311.5, 522.6, 500),
    (611.0, 847.9, 629.3, 777.3, 621.3, 838.3, 500),
    (879.6, 1117.9, 629.3, 777.3, 891.0, 1108.6, 500),
    (31.6, 273.6, 922.0, 1070.3, 47.4, 265.5, 500),
    (301.0, 540.2, 922.0, 1070.3, 311.5, 530.3, 500),
    (610.3, 847.9, 922.0, 1070.3, 621.3, 840.7, 500),
    (880.3, 1117.9, 922.0, 1070.3, 891.0, 1108.6, 500),
]
RED, BLUE = "#ed1c24", "#00b0f0"
BOXES = [
    (8.3, 60.0, 274.3, 242.7, RED), (275.0, 60.0, 543.3, 242.7, BLUE),
    (585.5, 61.0, 852.0, 241.7, RED), (852.0, 61.0, 1119.0, 241.7, BLUE),
    (10.5, 331.0, 277.0, 511.7, RED), (277.0, 331.0, 545.4, 511.7, BLUE),
    (585.5, 331.0, 852.0, 511.7, RED), (852.0, 331.0, 1119.0, 511.7, BLUE),
    (10.5, 617.7, 276.6, 797.7, RED), (276.6, 617.7, 544.8, 797.7, BLUE),
    (585.5, 617.7, 852.0, 797.7, RED), (852.0, 617.7, 1119.0, 797.7, BLUE),
    (11.3, 910.3, 278.3, 1100.0, RED), (278.3, 910.3, 544.8, 1100.0, BLUE),
    (585.5, 910.3, 852.0, 1100.0, RED), (852.0, 910.3, 1119.0, 1100.0, BLUE),
]
GROUP_TITLE_POS = [(276, 25), (850, 25), (275, 293), (850, 293),
                   (277, 577), (843, 577), (275, 868), (838, 868)]

FONT = "DejaVu Sans, Liberation Sans, sans-serif"


def fx(px):
    return px / W


def fy(py):
    return 1 - py / H


fig = go.Figure()
layout = dict(width=W, height=H, autosize=False, margin=dict(l=0, r=0, t=0, b=0),
              paper_bgcolor="white", plot_bgcolor="white", showlegend=False)
shapes, annos = [], []

axis_style = dict(showline=True, mirror=True, linecolor="#666666", linewidth=0.9,
                  ticks="outside", ticklen=2.5, tickwidth=0.7, tickcolor="#666666",
                  tickfont=dict(family=FONT, size=5.3, color="#333333"),
                  showgrid=False, zeroline=False, fixedrange=True)

for i, (table, g) in enumerate(zip(PANEL_DATA, GEOM)):
    n = i + 1
    L, R, T, B, x0px, xtpx, tval = g
    ppu = (xtpx - x0px) / tval
    xr = [(L - x0px) / ppu, (R - x0px) / ppu]
    sfx = "" if n == 1 else str(n)
    pos = [r[0] for r in table]
    for k in range(5):
        fig.add_trace(go.Scatter(
            x=pos, y=[r[k + 1] for r in table], mode="lines", name=RANKS[k],
            line=dict(color=COLORS[k], width=1.15),
            xaxis="x" + sfx, yaxis="y" + sfx, showlegend=False, hoverinfo="skip"))
    layout["xaxis" + sfx] = dict(domain=[fx(L), fx(R)], range=xr, anchor="y" + sfx,
                                 tickmode="array", tickvals=X_TICKS, **axis_style)
    layout["yaxis" + sfx] = dict(domain=[fy(B), fy(T)], range=[0, 100], anchor="x" + sfx,
                                 tickmode="array", tickvals=Y_TICKS, **axis_style)

    # panel title and axis labels
    annos.append(dict(x=fx((L + R) / 2), y=fy(T - 5.6), xref="paper", yref="paper",
                      text=PANEL_TITLE, showarrow=False, xanchor="center", yanchor="middle",
                      font=dict(family=FONT, size=6.3, color="#222222")))
    annos.append(dict(x=fx((L + R) / 2), y=fy(B + 13), xref="paper", yref="paper",
                      text=X_LABEL, showarrow=False, xanchor="center", yanchor="middle",
                      font=dict(family=FONT, size=5.4, color="#333333")))
    annos.append(dict(x=fx(L - 18), y=fy((T + B) / 2), xref="paper", yref="paper",
                      text=Y_LABEL, showarrow=False, xanchor="center", yanchor="middle",
                      textangle=-90, font=dict(family=FONT, size=5.4, color="#333333")))

    # legend (lower left, matplotlib style)
    lx0, lx1 = L + 4, L + 40
    ly0, ly1 = B - 46.7, B - 2.7
    shapes.append(dict(type="rect", xref="paper", yref="paper", x0=fx(lx0), x1=fx(lx1),
                       y0=fy(ly1), y1=fy(ly0), fillcolor="rgba(255,255,255,0.9)",
                       line=dict(color="#d5d5d5", width=0.7), layer="above"))
    for k in range(5):
        yy = B - 42.4 + 8.5 * k
        shapes.append(dict(type="line", xref="paper", yref="paper", x0=fx(L + 5.5), x1=fx(L + 16.5),
                           y0=fy(yy), y1=fy(yy), line=dict(color=COLORS[k], width=1.2), layer="above"))
        annos.append(dict(x=fx(L + 19.5), y=fy(yy), xref="paper", yref="paper", text=RANKS[k],
                          showarrow=False, xanchor="left", yanchor="middle",
                          font=dict(family=FONT, size=4.6, color="#333333")))

for (x0, y0, x1, y1, col) in BOXES:
    shapes.append(dict(type="rect", xref="paper", yref="paper", x0=fx(x0), x1=fx(x1),
                       y0=fy(y1), y1=fy(y0), line=dict(color=col, width=3),
                       fillcolor="rgba(0,0,0,0)", layer="above"))

for title, (tx, ty) in zip(GROUP_TITLES, GROUP_TITLE_POS):
    annos.append(dict(x=fx(tx), y=fy(ty), xref="paper", yref="paper", text="<b>" + title + "</b>",
                      showarrow=False, xanchor="center", yanchor="middle",
                      font=dict(family="Liberation Sans, Arial, sans-serif", size=33, color="black")))

layout["shapes"] = shapes
layout["annotations"] = annos
fig.update_layout(**layout)

fig.write_html("out.html", config={"displayModeBar": False, "staticPlot": True},
               post_script="document.body.style.margin='0';document.body.style.overflow='hidden';")
